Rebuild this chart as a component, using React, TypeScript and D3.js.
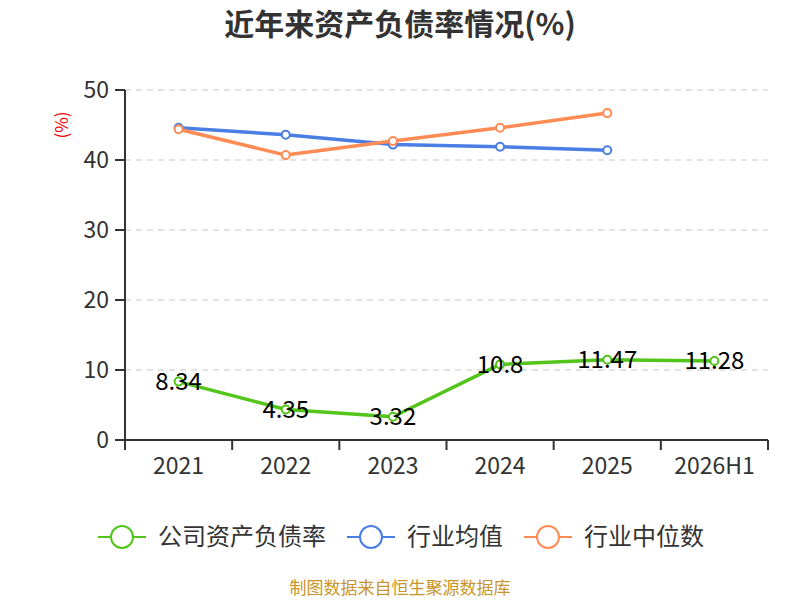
import * as React from 'react';
import * as d3 from 'd3';

const years = ['2021', '2022', '2023', '2024', '2025', '2026H1'];
const companyRate = [8.34, 4.35, 3.32, 10.8, 11.47, 11.28];
const industryAvg = [44.6, 43.6, 42.2, 41.9, 41.4];
const industryMedian = [44.4, 40.7, 42.7, 44.6, 46.7];
const yTicks = [0, 10, 20, 30, 40, 50];

const seriesNames = ['公司资产负债率', '行业均值', '行业中位数'];
const seriesColors = ['#52c41a', '#4a7ee3', '#ff8c55'];

const font = '"Noto Sans CJK SC", "Noto Sans", sans-serif';

export default function App() {
  const width = 800;
  const height = 600;
  const left = 125;
  const right = 768;
  const top = 90;
  const bottom = 440;

  const x = d3.scaleBand<string>().domain(years).range([left, right]);
  const y = d3.scaleLinear().domain([0, 50]).range([bottom, top]);
  const cx = (i: number) => (x(years[i]) as number) + x.bandwidth() / 2;

  const line = d3.line<number>()
    .x((_, i) => cx(i))
    .y((d) => y(d));

  const series = [companyRate, industryAvg, industryMedian];
  const legendX = [98, 347, 524];

  return (
    <svg width={width} height={height} style={{ position: 'absolute', left: 0, top: 0 }}>
      <rect width={width} height={height} fill="#fff" />
      <text x={400} y={24} dy="0.35em" textAnchor="middle" fontSize={30} fontWeight="bold" fill="#333" fontFamily={font}>
        近年来资产负债率情况(%)
      </text>

      {/* grid */}
      {yTicks.filter((t) => t > 0).map((t) => (
        <line key={t} x1={left} x2={right} y1={y(t)} y2={y(t)} stroke="#c8c8c8" strokeDasharray="6,5" strokeWidth={1.2} />
      ))}

      {/* y axis */}
      <line x1={left} x2={left} y1={top} y2={bottom + 10} stroke="#333" strokeWidth={2} />
      {yTicks.map((t) => (
        <g key={t}>
          <line x1={left - 10} x2={left} y1={y(t)} y2={y(t)} stroke="#333" strokeWidth={2} />
          <text x={left - 16} y={y(t)} dy="0.35em" textAnchor="end" fontSize={23} fill="#333" fontFamily={font}>{t}</text>
        </g>
      ))}
      <text transform={`translate(62,${125}) rotate(-90)`} textAnchor="middle" dy="0.35em" fontSize={17} fill="#e00" fontFamily={font}>(%)</text>

      {/* x axis */}
      <line x1={left} x2={right} y1={bottom} y2={bottom} stroke="#333" strokeWidth={2} />
      {years.map((yr, i) => (
        <g key={yr}>
          <line x1={(x(yr) as number) + x.bandwidth()} x2={(x(yr) as number) + x.bandwidth()} y1={bottom} y2={bottom + 10} stroke="#333" strokeWidth={2} />
          <text x={cx(i)} y={bottom + 26} dy="0.35em" textAnchor="middle" fontSize={23} fill="#333" fontFamily={font}>{yr}</text>
        </g>
      ))}

      {/* lines */}
      {[1, 2, 0].map((s) => (
        <g key={s}>
          <path d={line(series[s]) as string} fill="none" stroke={seriesColors[s]} strokeWidth={3.5} strokeLinejoin="round" />
          {series[s].map((v, i) => (
            <circle key={i} cx={cx(i)} cy={y(v)} r={4} fill="#fff" stroke={seriesColors[s]} strokeWidth={2} />
          ))}
        </g>
      ))}

      {companyRate.map((v, i) => (
        <text key={i} x={cx(i)} y={y(v)} dy="0.35em" textAnchor="middle" fontSize={24} fill="#000" fontFamily={font}>{v}</text>
      ))}

      {/* legend */}
      {seriesNames.map((n, s) => (
        <g key={n} transform={`translate(${legendX[s]},537)`}>
          <line x1={0} x2={48} y1={0} y2={0} stroke={seriesColors[s]} strokeWidth={2} />
          <circle cx={24} cy={0} r={11} fill="#fff" stroke={seriesColors[s]} strokeWidth={2} />
          <text x={60} y={0} dy="0.35em" fontSize={24} fill="#333" fontFamily={font}>{n}</text>
        </g>
      ))}

      <text x={400} y={588} dy="0.35em" textAnchor="middle" fontSize={17} fill="#c8952b" fontFamily={font}>制图数据来自恒生聚源数据库</text>
    </svg>
  );
}
